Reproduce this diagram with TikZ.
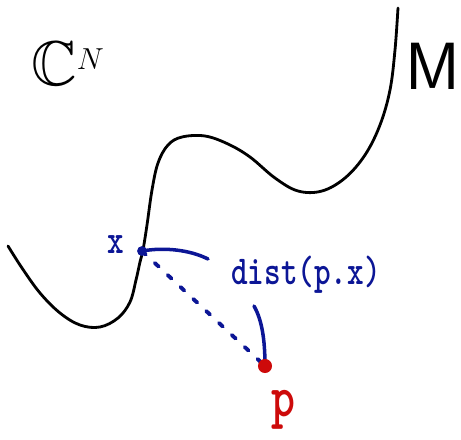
\documentclass[tikz,border=0pt]{standalone}
\usepackage{amssymb}
\usetikzlibrary{arrows.meta}
\definecolor{inkblue}{RGB}{12,22,150}
\definecolor{inkred}{RGB}{205,10,10}
\tikzset{
  ink/.style={line width=1.6pt,line cap=round,line join=round},
  hand/.style={font=\ttfamily\bfseries\fontsize{18}{20}\selectfont,inner sep=0pt,yscale=1.3}
}

\begin{document}
\begin{tikzpicture}[x=0.02cm,y=-0.02cm,>=Stealth]
  \useasboundingbox (0,0) rectangle (461,440);
  \draw[ink,black] plot[smooth,tension=0.6] coordinates {
    (8,246) (22,268) (40,293) (60,313) (80,325) (100,327) (118,318)
    (130,302) (136,280) (140,262) (143,250) (147,225) (152,190) (158,163)
    (168,145) (182,137) (205,136) (228,144) (250,157) (275,178) (298,191)
    (322,191) (345,178) (365,155) (380,125) (390,90) (395,50) (398,8)};
  \node[inner sep=0pt,font=\fontsize{36}{38}\selectfont] (cn) at (68,64) {$\mathbb{C}^{\scriptscriptstyle N}$};
  \node[inner sep=0pt,font=\sffamily\fontsize{38}{40}\selectfont] (mlabel) at (433,66) {M};
  \coordinate (xpt) at (142,251);
  \coordinate (ppt) at (265,366);
  \coordinate (lead1) at (208,259);
  \coordinate (lead2) at (254,306);
  \draw[ink,inkblue,line width=2.2pt,dash pattern=on 3pt off 7pt] (xpt) -- (ppt);
  \draw[ink,inkblue,line width=2pt] (lead1) .. controls (190,250) and (165,247) .. (xpt);
  \draw[ink,inkblue,line width=2pt] (lead2) .. controls (262,320) and (265,340) .. (ppt);
  \fill[inkblue] (xpt) circle (2.8pt);
  \fill[inkred] (ppt) circle (4pt);
  \node[hand,inkblue] (xlabel) at (116,245) {x};
  \node[hand,inkblue] (distlabel) at (306,275) {dist(p.x)};
  \node[hand,inkred,font=\ttfamily\bfseries\fontsize{26}{28}\selectfont] (plabel) at (283,410) {p};
\end{tikzpicture}
\end{document}
